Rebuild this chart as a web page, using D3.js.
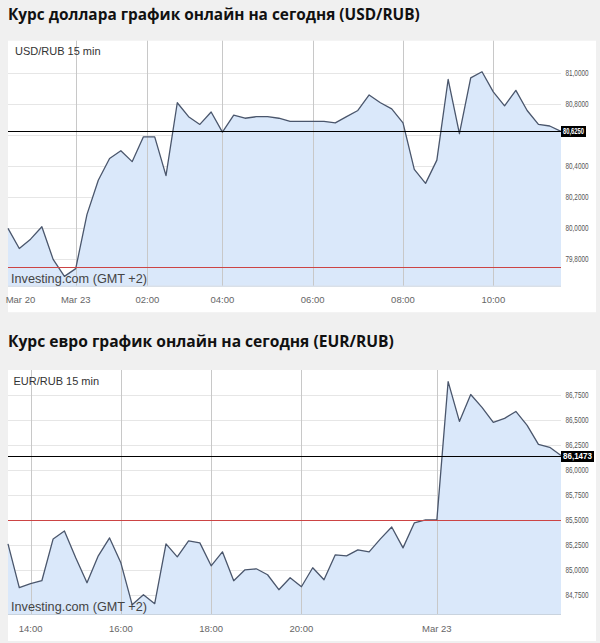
<!DOCTYPE html>
<html>
<head>
<meta charset="utf-8">
<script src="https://cdn.jsdelivr.net/npm/d3@7"></script>
<style>
  html, body { margin: 0; padding: 0; background: #f0f0f0; }
  svg { display: block; }
</style>
</head>
<body>
<svg id="chart" width="600" height="643"></svg>
<script>
// ---------- DATA ----------
const usdTitle = "Курс доллара график онлайн на сегодня (USD/RUB)";
const usdLabel = "USD/RUB 15 min";
const usdValues = [
  80.00, 79.87, 79.93, 80.01, 79.80, 79.69, 79.74, 80.09, 80.31, 80.45,
  80.50, 80.43, 80.59, 80.59, 80.34, 80.81, 80.72, 80.67, 80.75, 80.62,
  80.73, 80.71, 80.72, 80.72, 80.71, 80.69, 80.69, 80.69, 80.69, 80.68,
  80.72, 80.76, 80.86, 80.81, 80.77, 80.68, 80.38, 80.29, 80.44, 80.96,
  80.61, 80.97, 81.01, 80.88, 80.79, 80.89, 80.76, 80.67, 80.66, 80.625
];
const usdTickLabels = ["Mar 20", "Mar 23", "02:00", "04:00", "06:00", "08:00", "10:00"];
const usdTickIndex  = [1.1, 6, 12.35, 19, 27, 35, 43];
const usdTickGrid   = [false, true, true, true, true, true, true];
const usdYTicks = [81.0, 80.8, 80.6, 80.4, 80.2, 80.0, 79.8];
const usdYDomain = [79.63, 81.21];
const usdLast = 80.625;
const usdLastLabel = "80,6250";
const usdPrevClose = 79.7475;

const eurTitle = "Курс евро график онлайн на сегодня (EUR/RUB)";
const eurLabel = "EUR/RUB 15 min";
const eurValues = [
  85.26, 84.82, 84.86, 84.89, 85.31, 85.39, 85.12, 84.87, 85.14, 85.32,
  85.07, 84.65, 84.75, 84.66, 85.26, 85.13, 85.29, 85.27, 85.04, 85.18,
  84.89, 85.00, 85.01, 84.95, 84.80, 84.92, 84.83, 85.02, 84.90, 85.15,
  85.14, 85.20, 85.18, 85.31, 85.43, 85.22, 85.47, 85.50, 85.50, 86.89,
  86.49, 86.76, 86.63, 86.48, 86.52, 86.59, 86.45, 86.26, 86.23, 86.1473
];
const eurTickLabels = ["14:00", "16:00", "18:00", "20:00", "Mar 23"];
const eurTickIndex  = [2, 10, 18, 26, 38];
const eurTickGrid   = [true, true, true, true, true];
const eurYTicks = [86.75, 86.5, 86.25, 86.0, 85.75, 85.5, 85.25, 85.0, 84.75];
const eurYDomain = [84.556, 87.006];
const eurLast = 86.1473;
const eurLastLabel = "86,1473";
const eurPrevClose = 85.50;

const sourceText = "Investing.com (GMT +2)";

// ---------- DRAW ----------
const svg = d3.select("#chart");
const fmt = v => d3.format(".4f")(v).replace(".", ",");
const sans = "Arial, 'Liberation Sans', sans-serif";

function drawChart(o) {
  const g = svg.append("g");
  const panel = { x: 8, y: o.top, w: 588, h: o.h };
  const plot = { left: 8, right: 561, top: o.top, bottom: o.top + o.plotH };

  // title
  g.append("text")
    .attr("x", 8).attr("y", o.titleY)
    .attr("font-family", "'Open Sans', sans-serif")
    .attr("font-weight", 700)
    .attr("font-size", o.titleSize)
    .attr("fill", "#111")
    .text(o.title);

  // panel
  g.append("rect")
    .attr("x", panel.x).attr("y", panel.y)
    .attr("width", panel.w).attr("height", panel.h)
    .attr("fill", "#fff");

  const x = d3.scaleLinear().domain([0, o.values.length - 1]).range([plot.left, plot.right]);
  const y = d3.scaleLinear().domain(o.yDomain).range([plot.bottom, plot.top]);

  // horizontal grid
  g.append("g").selectAll("line").data(o.yTicks).join("line")
    .attr("x1", plot.left).attr("x2", plot.right)
    .attr("y1", d => Math.round(y(d)) + 0.5).attr("y2", d => Math.round(y(d)) + 0.5)
    .attr("stroke", "#e6e6e6").attr("stroke-width", 1);

  // area
  const pts = o.values.map((v, i) => [i, v]);
  g.append("path").datum(pts)
    .attr("d", d3.area().x(d => x(d[0])).y0(plot.bottom).y1(d => y(d[1])))
    .attr("fill", "#dae8fa");

  // vertical grid
  const ticks = o.tickLabels.map((l, i) => ({ label: l, idx: o.tickIndex[i], grid: o.tickGrid[i] }));
  g.append("g").selectAll("line").data(ticks.filter(t => t.grid)).join("line")
    .attr("x1", d => Math.round(x(d.idx)) + 0.5).attr("x2", d => Math.round(x(d.idx)) + 0.5)
    .attr("y1", plot.top).attr("y2", plot.bottom)
    .attr("stroke", "#c8c8c8").attr("stroke-width", 1);

  // line
  g.append("path").datum(pts)
    .attr("d", d3.line().x(d => x(d[0])).y(d => y(d[1])))
    .attr("fill", "none")
    .attr("stroke", "#4a566c")
    .attr("stroke-width", 1.3)
    .attr("stroke-linejoin", "round");

  // plot bottom border
  g.append("line")
    .attr("x1", plot.left).attr("x2", plot.right)
    .attr("y1", plot.bottom + 0.5).attr("y2", plot.bottom + 0.5)
    .attr("stroke", "#c9d3de");

  // previous close (red) line
  g.append("line")
    .attr("x1", plot.left).attr("x2", plot.right)
    .attr("y1", Math.round(y(o.prevClose)) + 0.5).attr("y2", Math.round(y(o.prevClose)) + 0.5)
    .attr("stroke", "#cc4444").attr("stroke-width", 1);

  // last price (black) line
  const ly = Math.round(y(o.last)) + 0.5;
  g.append("line")
    .attr("x1", plot.left).attr("x2", plot.right)
    .attr("y1", ly).attr("y2", ly)
    .attr("stroke", "#000").attr("stroke-width", 1);

  // y labels
  g.append("g").selectAll("text")
    .data(o.yTicks.filter(d => Math.abs(y(d) - y(o.last)) > 8))
    .join("text")
    .attr("x", 565.5).attr("y", d => y(d))
    .attr("dy", "0.35em")
    .attr("font-family", sans)
    .attr("font-size", 8.5)
    .attr("textLength", 23)
    .attr("lengthAdjust", "spacingAndGlyphs")
    .attr("fill", "#555")
    .text(d => fmt(d));

  // last price tag
  g.append("rect")
    .attr("x", 561).attr("y", ly - 5.5)
    .attr("width", o.tagW).attr("height", 11)
    .attr("fill", "#000");
  g.append("text")
    .attr("x", 561 + o.tagW / 2).attr("y", ly)
    .attr("dy", "0.35em")
    .attr("text-anchor", "middle")
    .attr("font-family", sans)
    .attr("font-weight", 700)
    .attr("font-size", 8.5)
    .attr("textLength", o.tagW - 4)
    .attr("lengthAdjust", "spacingAndGlyphs")
    .attr("fill", "#fff")
    .text(o.lastLabel);

  // x labels
  g.append("g").selectAll("text").data(ticks).join("text")
    .attr("x", d => x(d.idx)).attr("y", plot.bottom + o.xLabelDy)
    .attr("text-anchor", "middle")
    .attr("font-family", sans)
    .attr("font-size", 9.5)
    .attr("fill", "#666")
    .text(d => d.label);

  // series label
  g.append("text")
    .attr("x", o.labelX).attr("y", plot.top + 14.5)
    .attr("font-family", sans)
    .attr("font-size", 11)
    .attr("fill", "#333")
    .text(o.label);

  // source
  g.append("text")
    .attr("x", 11).attr("y", plot.bottom - 3)
    .attr("font-family", sans)
    .attr("font-size", 13.5)
    .attr("textLength", 136)
    .attr("lengthAdjust", "spacingAndGlyphs")
    .attr("fill", "#444")
    .text(sourceText);
}

drawChart({
  title: usdTitle, titleY: 19.5, titleSize: 15.4, top: 40.7, h: 271.5, plotH: 245,
  values: usdValues, tickLabels: usdTickLabels, tickIndex: usdTickIndex, tickGrid: usdTickGrid,
  yTicks: usdYTicks, yDomain: usdYDomain, last: usdLast, lastLabel: usdLastLabel,
  prevClose: usdPrevClose, label: usdLabel, labelX: 15, xLabelDy: 17,
  tagW: 25
});

drawChart({
  title: eurTitle, titleY: 347, titleSize: 15.6, top: 370, h: 271, plotH: 244,
  values: eurValues, tickLabels: eurTickLabels, tickIndex: eurTickIndex, tickGrid: eurTickGrid,
  yTicks: eurYTicks, yDomain: eurYDomain, last: eurLast, lastLabel: eurLastLabel,
  prevClose: eurPrevClose, label: eurLabel, labelX: 13.5, xLabelDy: 17.5,
  tagW: 33
});
</script>
</body>
</html>
